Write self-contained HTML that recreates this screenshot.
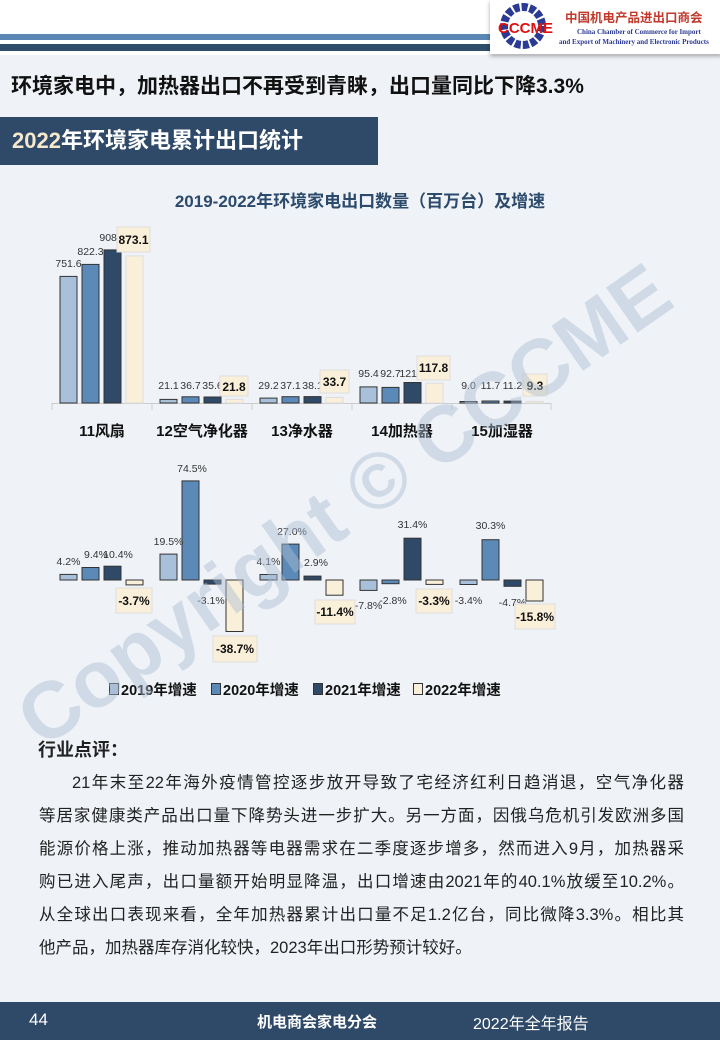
<!DOCTYPE html>
<html><head><meta charset="utf-8">
<style>
html,body{margin:0;padding:0}
body{width:720px;height:1040px;position:relative;overflow:hidden;background:#eff3f8;font-family:"Liberation Sans","Noto Sans CJK SC",sans-serif;}
.top{position:absolute;left:0;top:0;width:720px;height:55px;background:#fff}
.l1{position:absolute;left:0;top:34px;width:500px;height:6px;background:#5b87b5}
.l2{position:absolute;left:0;top:44px;width:500px;height:7px;background:#2f4c6b}
.logo{position:absolute;left:490px;top:0;width:232px;height:54px;background:#fff;box-shadow:0 2px 4px rgba(0,0,0,.35)}
.h1{position:absolute;left:11px;top:70px;font-size:21px;font-weight:bold;color:#111;white-space:nowrap}
.band{position:absolute;left:0;top:117px;width:378px;height:48px;background:#2e4a68;color:#fff;font-size:22px;font-weight:bold;line-height:48px;padding-left:12px;box-sizing:border-box}
.wm{position:absolute;left:50px;top:680px;height:80px;line-height:80px;font-size:80px;font-weight:bold;color:rgba(170,188,210,.45);transform:rotate(-35deg);transform-origin:left bottom;white-space:nowrap}
.cmt{position:absolute;left:38px;top:736px;font-size:18px;font-weight:bold;color:#222}
.p{position:absolute;left:39px;width:645px;font-size:16.5px;color:#222;text-align:justify;text-align-last:justify;white-space:nowrap;line-height:20px}
.foot{position:absolute;left:0;top:1002px;width:720px;height:38px;background:#2e4a68;color:#fff;font-size:16px}
</style></head><body>
<div class="top"></div>
<div class="l1"></div><div class="l2"></div>
<div class="logo">
<svg width="232" height="54">
<circle cx="33" cy="26" r="19" fill="none" stroke="#2b3a93" stroke-width="8" stroke-dasharray="6 2"/>
<text x="8" y="33" font-size="15" font-weight="bold" fill="#d11" font-family="Liberation Sans">CCCME</text>
<text x="75" y="22" font-size="12.5" font-weight="bold" fill="#c0392b" font-family="Noto Sans CJK SC">中国机电产品进出口商会</text>
<text x="87" y="34" font-size="7" fill="#2b3a93" font-family="Liberation Serif" font-weight="bold">China Chamber of Commerce for Import</text>
<text x="69" y="44" font-size="7" fill="#2b3a93" font-family="Liberation Serif" font-weight="bold">and Export of Machinery and Electronic Products</text>
</svg></div>
<div class="h1">环境家电中，加热器出口不再受到青睐，出口量同比下降3.3%</div>
<div class="band"><span style="color:#f6e8cc">2022</span>年环境家电累计出口统计</div>

<svg style="position:absolute;left:0;top:0" width="720" height="720" font-family="Liberation Sans, Noto Sans CJK SC, sans-serif">
<text x="360" y="207" text-anchor="middle" font-size="17" font-weight="bold" fill="#2c4a6b">2019-2022年环境家电出口数量（百万台）及增速</text>
<line x1="52" y1="403.5" x2="551" y2="403.5" stroke="#ccc"/>
<g stroke="#ccc"><line x1="52" y1="403" x2="52" y2="410"/><line x1="152" y1="403" x2="152" y2="410"/><line x1="252" y1="403" x2="252" y2="410"/><line x1="352" y1="403" x2="352" y2="410"/><line x1="452" y1="403" x2="452" y2="410"/><line x1="551" y1="403" x2="551" y2="410"/></g>
<g stroke="#333" stroke-width="1">
<rect x="60" y="276.4" width="17" height="126.6" fill="#a9c0da"/><rect x="82" y="264.4" width="17" height="138.6" fill="#5b8ab8"/><rect x="104" y="249.9" width="17" height="153.1" fill="#2f4a68"/><rect x="126" y="255.9" width="17" height="147.1" fill="#faefd9" stroke="#ddd"/>
<rect x="160" y="399.4" width="17" height="3.6" fill="#a9c0da"/><rect x="182" y="396.8" width="17" height="6.2" fill="#5b8ab8"/><rect x="204" y="397" width="17" height="6" fill="#2f4a68"/><rect x="226" y="399.3" width="17" height="3.7" fill="#faefd9" stroke="#ddd"/>
<rect x="260" y="398.1" width="17" height="4.9" fill="#a9c0da"/><rect x="282" y="396.7" width="17" height="6.3" fill="#5b8ab8"/><rect x="304" y="396.6" width="17" height="6.4" fill="#2f4a68"/><rect x="326" y="397.3" width="17" height="5.7" fill="#faefd9" stroke="#ddd"/>
<rect x="360" y="386.9" width="17" height="16.1" fill="#a9c0da"/><rect x="382" y="387.4" width="17" height="15.6" fill="#5b8ab8"/><rect x="404" y="382.5" width="17" height="20.5" fill="#2f4a68"/><rect x="426" y="383.2" width="17" height="19.8" fill="#faefd9" stroke="#ddd"/>
<rect x="460" y="401.5" width="17" height="1.5" fill="#a9c0da"/><rect x="482" y="401" width="17" height="2" fill="#5b8ab8"/><rect x="504" y="401.1" width="17" height="1.9" fill="#2f4a68"/><rect x="526" y="401.4" width="17" height="1.6" fill="#faefd9" stroke="#ddd"/>
</g>
<g font-size="10.5" fill="#333" text-anchor="middle">
<text x="68.5" y="267">751.6</text><text x="90.5" y="255">822.3</text><text x="112.5" y="241">908.5</text>
<text x="168.5" y="389">21.1</text><text x="190.5" y="389">36.7</text><text x="212.5" y="389">35.6</text>
<text x="268.5" y="389">29.2</text><text x="290.5" y="389">37.1</text><text x="312.5" y="389">38.1</text>
<text x="368.5" y="377">95.4</text><text x="390.5" y="377">92.7</text><text x="412.5" y="377">121.4</text>
<text x="468.5" y="389">9.0</text><text x="490.5" y="389">11.7</text><text x="512.5" y="389">11.2</text>
</g>
<g fill="#faefd9" stroke="#ddd">
<rect x="117" y="227" width="33" height="25"/><rect x="220" y="376" width="28" height="20"/><rect x="320" y="370" width="29" height="23"/><rect x="417" y="356" width="33" height="24"/><rect x="523" y="374" width="24" height="22"/>
</g>
<g font-size="12" font-weight="bold" fill="#111" text-anchor="middle">
<text x="133.5" y="244">873.1</text><text x="234" y="391">21.8</text><text x="334.5" y="386">33.7</text><text x="433.5" y="372">117.8</text><text x="535" y="390">9.3</text>
</g>
<g font-size="15" font-weight="bold" fill="#111" text-anchor="middle">
<text x="102" y="436">11风扇</text><text x="202" y="436">12空气净化器</text><text x="302" y="436">13净水器</text><text x="402" y="436">14加热器</text><text x="502" y="436">15加湿器</text>
</g>

<g stroke="#333" stroke-width="1">
<rect x="60" y="574.4" width="17" height="5.6" fill="#a9c0da"/><rect x="82" y="567.5" width="17" height="12.5" fill="#5b8ab8"/><rect x="104" y="566.2" width="17" height="13.8" fill="#2f4a68"/><rect x="126" y="580" width="17" height="4.9" fill="#faefd9"/>
<rect x="160" y="554.1" width="17" height="25.9" fill="#a9c0da"/><rect x="182" y="480.9" width="17" height="99.1" fill="#5b8ab8"/><rect x="204" y="580" width="17" height="4.1" fill="#2f4a68"/><rect x="226" y="580" width="17" height="51.5" fill="#faefd9"/>
<rect x="260" y="574.5" width="17" height="5.5" fill="#a9c0da"/><rect x="282" y="544.1" width="17" height="35.9" fill="#5b8ab8"/><rect x="304" y="576.1" width="17" height="3.9" fill="#2f4a68"/><rect x="326" y="580" width="17" height="15.2" fill="#faefd9"/>
<rect x="360" y="580" width="17" height="10.4" fill="#a9c0da"/><rect x="382" y="580" width="17" height="3.7" fill="#5b8ab8"/><rect x="404" y="538.2" width="17" height="41.8" fill="#2f4a68"/><rect x="426" y="580" width="17" height="4.4" fill="#faefd9"/>
<rect x="460" y="580" width="17" height="4.5" fill="#a9c0da"/><rect x="482" y="539.7" width="17" height="40.3" fill="#5b8ab8"/><rect x="504" y="580" width="17" height="6.3" fill="#2f4a68"/><rect x="526" y="580" width="17" height="21" fill="#faefd9"/>
</g>
<g font-size="10.5" fill="#333" text-anchor="middle">
<text x="68.5" y="565">4.2%</text><text x="96" y="558">9.4%</text><text x="118" y="558">10.4%</text>
<text x="168.5" y="545">19.5%</text><text x="192" y="472">74.5%</text><text x="211" y="604">-3.1%</text>
<text x="268.5" y="565">4.1%</text><text x="292" y="535">27.0%</text><text x="316" y="566">2.9%</text>
<text x="368.5" y="609">-7.8%</text><text x="393" y="604">-2.8%</text><text x="412.5" y="528">31.4%</text>
<text x="468.5" y="604">-3.4%</text><text x="490.5" y="529">30.3%</text><text x="512.5" y="606">-4.7%</text>
</g>
<g fill="#faefd9" stroke="#ddd">
<rect x="116" y="588" width="36" height="25"/><rect x="213" y="636" width="44" height="26"/><rect x="315" y="600" width="40" height="24"/><rect x="416" y="589" width="36" height="24"/><rect x="515" y="604" width="40" height="25"/>
</g>
<g font-size="12" font-weight="bold" fill="#111" text-anchor="middle">
<text x="134" y="605">-3.7%</text><text x="235" y="653">-38.7%</text><text x="335" y="616">-11.4%</text><text x="434" y="605">-3.3%</text><text x="535" y="621">-15.8%</text>
</g>
<g stroke="#333" stroke-width="1">
<rect x="109.5" y="683.5" width="9" height="11" fill="#a9c0da"/><rect x="211.5" y="683.5" width="9" height="11" fill="#5b8ab8"/><rect x="313.5" y="683.5" width="9" height="11" fill="#2f4a68"/><rect x="413.5" y="683.5" width="9" height="11" fill="#faefd9"/>
</g>
<g font-size="14.5" font-weight="bold" fill="#111">
<text x="121" y="695">2019年增速</text><text x="223" y="695">2020年增速</text><text x="325" y="695">2021年增速</text><text x="425" y="695">2022年增速</text>
</g>
</svg>
<div class="wm">Copyright © CCCME</div>

<div class="cmt">行业点评：</div>
<div class="p" style="top:773px;left:72px;width:612px">21年末至22年海外疫情管控逐步放开导致了宅经济红利日趋消退，空气净化器</div>
<div class="p" style="top:806px">等居家健康类产品出口量下降势头进一步扩大。另一方面，因俄乌危机引发欧洲多国</div>
<div class="p" style="top:839px">能源价格上涨，推动加热器等电器需求在二季度逐步增多，然而进入9月，加热器采</div>
<div class="p" style="top:872px">购已进入尾声，出口量额开始明显降温，出口增速由2021年的40.1%放缓至10.2%。</div>
<div class="p" style="top:905px">从全球出口表现来看，全年加热器累计出口量不足1.2亿台，同比微降3.3%。相比其</div>
<div class="p" style="top:938px;text-align-last:left;width:auto">他产品，加热器库存消化较快，2023年出口形势预计较好。</div>

<div class="foot">
<span style="position:absolute;left:29px;top:8px;font-size:17px">44</span>
<span style="position:absolute;left:257px;top:9px;font-weight:bold;font-size:15px">机电商会家电分会</span>
<span style="position:absolute;left:473px;top:8px;font-size:16px">2022年全年报告</span>
</div>
</body></html>
